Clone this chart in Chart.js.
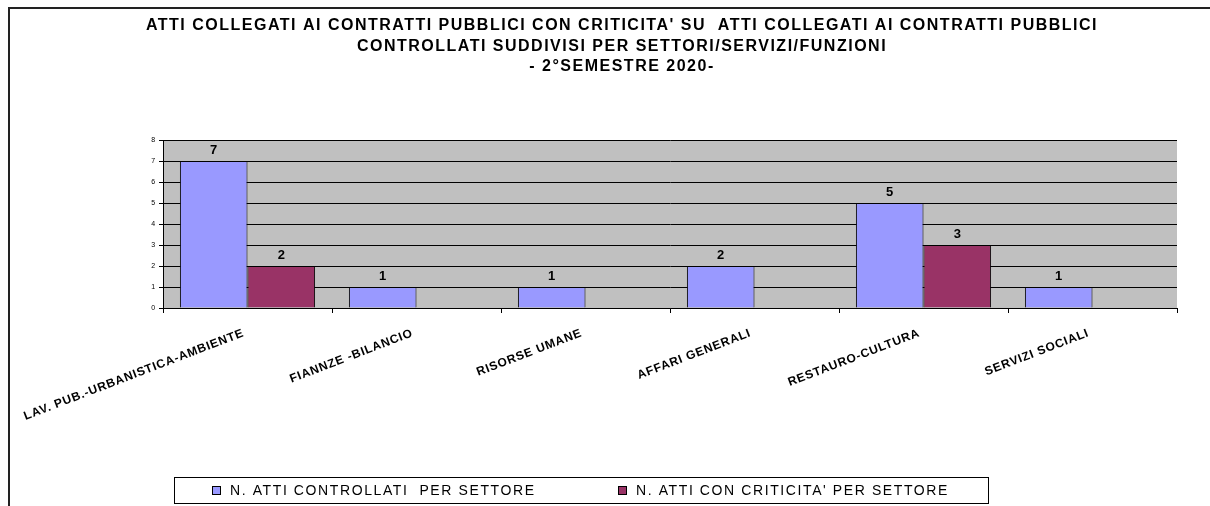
<!doctype html>
<html lang="it">
<head>
<meta charset="utf-8">
<title>Atti collegati ai contratti pubblici</title>
<script src="https://cdn.jsdelivr.net/npm/chart.js@4.4.1/dist/chart.umd.min.js"></script>
<style>
  html, body { margin: 0; padding: 0; background: #fff; }
  #wrap { width: 1210px; height: 506px; }
</style>
</head>
<body>
<div id="wrap"><canvas id="barChart" width="1210" height="506"></canvas></div>
<script>
// --- data ---
var settori = ["LAV. PUB.-URBANISTICA-AMBIENTE", "FIANNZE -BILANCIO", "RISORSE UMANE",
               "AFFARI GENERALI", "RESTAURO-CULTURA", "SERVIZI SOCIALI"];
var attiControllati = [7, 1, 1, 2, 5, 1];
var attiCriticita = [2, 0, 0, 0, 3, 0];
var yTicks = [0, 1, 2, 3, 4, 5, 6, 7, 8];
var titolo = ["ATTI COLLEGATI AI CONTRATTI PUBBLICI CON CRITICITA' SU  ATTI COLLEGATI AI CONTRATTI PUBBLICI",
              "CONTROLLATI SUDDIVISI PER SETTORI/SERVIZI/FUNZIONI",
              "- 2°SEMESTRE 2020-"];
var nomiSerie = ["N. ATTI CONTROLLATI  PER SETTORE", "N. ATTI CON CRITICITA' PER SETTORE"];

var FONT = "'Liberation Sans', Arial, sans-serif";

// the old office export spaces its letters out a bit
var spaziatura = {
  id: 'spaziatura',
  beforeUpdate: function(chart) { chart.ctx.letterSpacing = '0.8px'; },
  beforeDraw: function(chart) { chart.ctx.letterSpacing = '0.8px'; }
};

// grey plot background + frame round the chart
var sfondo = {
  id: 'sfondo',
  beforeDraw: function(chart) {
    var c = chart.ctx, a = chart.chartArea;
    c.save();
    c.fillStyle = '#c0c0c0';
    c.fillRect(a.left, a.top, a.right - a.left, a.bottom - a.top);
    c.strokeStyle = '#222';
    c.lineWidth = 2;
    c.beginPath();
    c.moveTo(9, 506);
    c.lineTo(9, 8);
    c.lineTo(1210, 8);
    c.stroke();
    c.restore();
  }
};

// title, value labels and boxed legend
var testi = {
  id: 'testi',
  afterDatasetsDraw: function(chart) {
    var c = chart.ctx;
    c.save();
    c.fillStyle = '#000';
    c.textAlign = 'center';
    c.textBaseline = 'middle';
    c.font = 'bold 16px ' + FONT;
    c.letterSpacing = '1.5px';
    titolo.forEach(function(t, i) {
      c.fillText(t, 622, 26 + i * 20.5);
    });

    c.letterSpacing = '0px';
    c.font = 'bold 13px ' + FONT;
    c.textBaseline = 'bottom';
    chart.data.datasets.forEach(function(ds, di) {
      var meta = chart.getDatasetMeta(di);
      meta.data.forEach(function(bar, i) {
        var v = ds.data[i];
        if (!v) return;
        c.fillText(String(v), bar.x, bar.y - 4);
      });
    });

    // legend
    c.strokeStyle = '#000';
    c.lineWidth = 1;
    c.strokeRect(174.5, 477.5, 814, 26);
    c.font = '14px ' + FONT;
    c.letterSpacing = '1.6px';
    c.textAlign = 'left';
    c.textBaseline = 'middle';
    var xs = [212, 618];
    chart.data.datasets.forEach(function(ds, di) {
      c.fillStyle = ds.backgroundColor;
      c.fillRect(xs[di] + 0.5, 486.5, 8, 8);
      c.strokeRect(xs[di] + 0.5, 486.5, 8, 8);
      c.fillStyle = '#000';
      c.fillText(ds.label, xs[di] + 18, 491);
    });
    c.restore();
  }
};

function bordo(ctx) {
  return ctx.raw ? 1 : 0;
}

new Chart(document.getElementById('barChart'), {
  type: 'bar',
  data: {
    labels: settori,
    datasets: [{
      label: nomiSerie[0],
      data: attiControllati,
      backgroundColor: '#9999ff',
      borderColor: '#000',
      borderWidth: bordo,
      categoryPercentage: 0.8,
      barPercentage: 1
    }, {
      label: nomiSerie[1],
      data: attiCriticita,
      backgroundColor: '#993366',
      borderColor: '#000',
      borderWidth: bordo,
      categoryPercentage: 0.8,
      barPercentage: 1
    }]
  },
  options: {
    responsive: false,
    animation: false,
    devicePixelRatio: 1,
    layout: { padding: { left: 10, top: 140, right: 33, bottom: 58 } },
    plugins: {
      legend: { display: false },
      title: { display: false },
      tooltip: { enabled: false }
    },
    scales: {
      y: {
        min: yTicks[0],
        max: yTicks[yTicks.length - 1],
        afterBuildTicks: function(s) { s.ticks = yTicks.map(function(v) { return { value: v }; }); },
        afterFit: function(s) { s.width = 153; },
        ticks: { color: '#000', font: { family: FONT, size: 7 }, padding: 3 },
        grid: { color: '#000', tickLength: 4, lineWidth: 1 },
        border: { color: '#000', width: 1 }
      },
      x: {
        afterFit: function(s) { s.height = 140; s.paddingLeft = 0; s.paddingRight = 0; },
        ticks: {
          color: '#000',
          font: { family: FONT, size: 12, weight: 'bold' },
          maxRotation: 21,
          minRotation: 21,
          autoSkip: false,
          labelOffset: -4,
          padding: 13
        },
        grid: { drawOnChartArea: false, color: '#000', tickLength: 5 },
        border: { color: '#000', width: 1 }
      }
    }
  },
  plugins: [spaziatura, sfondo, testi]
});
</script>
</body>
</html>
